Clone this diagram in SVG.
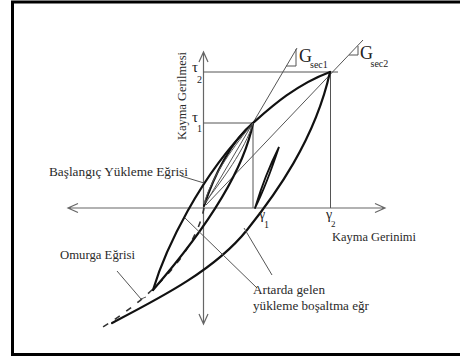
<svg xmlns="http://www.w3.org/2000/svg" width="460" height="358" viewBox="0 0 460 358">
<style>
.ax{fill:none;stroke:#666;stroke-width:1.2}
.thin{fill:none;stroke:#555;stroke-width:1}
.thick{fill:none;stroke:#111;stroke-width:2.2;stroke-linecap:round}
.dash{fill:none;stroke:#333;stroke-width:1.6;stroke-dasharray:6 8}
.lbl{font-family:"Liberation Serif","DejaVu Serif",serif;font-size:13px;fill:#2a2a2a}
.sym{font-family:"Liberation Serif","DejaVu Serif",serif;fill:#222}
</style>
<rect x="12.5" y="2" width="452" height="352.5" fill="#fff" stroke="#000" stroke-width="3"/>
<g id="axes">
<path class="ax" d="M68,208 H385 M78,203.5 L68,208 L78,212.5 M375,203.5 L385,208 L375,212.5"/>
<path class="ax" d="M203.5,52 V324 M199,62 L203.5,52 L208,62 M199,314 L203.5,324 L208,314"/>
</g>
<g id="guides">
<path class="thin" d="M203.5,72 H338 M203.5,123 H253 M253,123 V208 M330.5,72 V208"/>
</g>
<g id="secants">
<path class="thin" d="M204,206 L297,48 M286,66 H296 V49"/>
<path class="thin" d="M206,205 L363,40 M349,55 H358 V46"/>
</g>
<g id="curves">
<path class="thick" d="M112,323 C160,298 215,270 247,230 C275,195 315,140 330,72"/>
<path class="dash" d="M204,208 C198,240 170,285 103,327"/>
<path class="thick" d="M153,290 C165,250 200,175 253,123 C270,108 295,85 330,72"/>
<path class="thick" d="M153,290 C192,245 242,180 253,123"/>
<path class="thick" d="M204,206 C214,175 232,140 253,123"/>
<path class="thin" d="M204,204 C222,180 245,150 253,123"/>
<path class="thin" d="M204,204 C212,175 235,145 253,123"/>
<path class="thick" style="stroke-width:1.8" d="M255,208 C262,185 270,165 279,147 C272,168 265,188 255,208"/>
</g>
<g id="leaders">
<path class="thin" d="M181,176 L204,183"/>
<path class="thin" d="M117,271 L141,299 L146,297"/>
<path class="thin" d="M185,218 L257,288"/>
<path class="thin" d="M244,228 L272,275"/>
</g>
<g id="labels">
<text class="lbl" transform="translate(185.5,140) rotate(-90)" textLength="88" lengthAdjust="spacingAndGlyphs">Kayma Gerilmesi</text>
<text class="lbl" x="49" y="176" textLength="139" lengthAdjust="spacingAndGlyphs">Başlangıç Yükleme Eğrisi</text>
<text class="lbl" x="60" y="259" textLength="75" lengthAdjust="spacingAndGlyphs">Omurga Eğrisi</text>
<text class="lbl" x="332" y="241" textLength="84" lengthAdjust="spacingAndGlyphs">Kayma Gerinimi</text>
<text class="lbl" x="253" y="294" textLength="72" lengthAdjust="spacingAndGlyphs">Artarda gelen</text>
<text class="lbl" x="253" y="309.5" textLength="116" lengthAdjust="spacingAndGlyphs">yükleme boşaltma eğr</text>
<text class="sym" x="192" y="72" font-size="15">τ</text>
<text class="sym" x="197" y="83" font-size="10">2</text>
<text class="sym" x="192" y="122" font-size="15">τ</text>
<text class="sym" x="197" y="132" font-size="10">1</text>
<text class="sym" x="259" y="219" font-size="14">γ</text>
<text class="sym" x="264" y="228" font-size="10">1</text>
<text class="sym" x="326" y="219" font-size="14">γ</text>
<text class="sym" x="331" y="226.5" font-size="9">2</text>
<text class="sym" x="299" y="62" font-size="18">G</text>
<text class="sym" x="310" y="67.5" font-size="10">sec1</text>
<text class="sym" x="360" y="59" font-size="18">G</text>
<text class="sym" x="370.5" y="66.5" font-size="10">sec2</text>
</g>
</svg>
